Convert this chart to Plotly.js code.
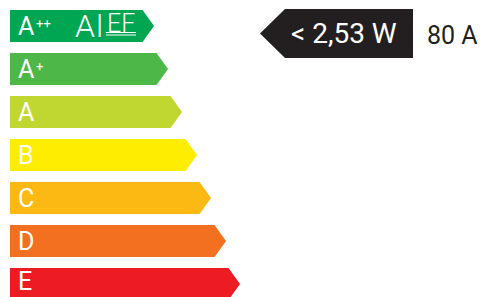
<!DOCTYPE html>
<html>
<head>
<meta charset="utf-8">
<script src="https://cdn.plot.ly/plotly-3.0.1.min.js"></script>
<style>html,body{margin:0;padding:0;background:#fff;}#chart{width:486px;height:297px;}</style>
</head>
<body>
<div id="chart"></div>
<script>
// ---- data ----
const categories = ['A++', 'A+', 'A', 'B', 'C', 'D', 'E'];
const classLabels = ['A', 'A', 'A', 'B', 'C', 'D', 'E'];
const classSup = ['++', '+', '', '', '', '', ''];
const barReach = [154, 168, 182, 197, 211, 226, 240];
const barColors = ['#00A651', '#4DB848', '#BFD730', '#FFED00', '#FDB913', '#F37021', '#ED1C24'];
const powerLabel = '< 2,53 W';
const powerReach = [260, 413];
const currentLabel = '80 A';

// ---- layout helpers (geometry, not data) ----
const W = 486, H = 297;
const x0 = 10, rowTop = 10, rowStep = 43, barH = 32, tipW = 11.5;

const traces = [];
const annotations = [];
categories.forEach((c, i) => {
  const top = rowTop + rowStep * i, bot = top + barH, mid = top + barH / 2;
  const tip = barReach[i];
  traces.push({
    type: 'scatter', mode: 'lines', fill: 'toself', fillcolor: barColors[i],
    line: {width: 0, color: barColors[i]}, hoverinfo: 'skip', name: c,
    x: [x0, tip - tipW, tip, tip - tipW, x0, x0],
    y: [top, top, mid, bot, bot, top]
  });
  annotations.push({
    x: 17, y: Math.min(mid + 0.5, H - 15.5), xref: 'x', yref: 'y', xanchor: 'left', yanchor: 'middle',
    text: classLabels[i], showarrow: false, borderpad: 0,
    font: {family: 'Roboto', size: 25, color: '#ffffff'}
  });
  if (classSup[i]) {
    annotations.push({
      x: 34.5, y: mid - 3, xref: 'x', yref: 'y', xanchor: 'left', yanchor: 'middle',
      text: classSup[i], showarrow: false, borderpad: 0,
      font: {family: 'Roboto', size: 13, color: '#ffffff'}
    });
  }
});

// black indicator arrow
const pTop = 9, pBot = 58, pMid = (pTop + pBot) / 2, pTipW = 25;
traces.push({
  type: 'scatter', mode: 'lines', fill: 'toself', fillcolor: '#231F20',
  line: {width: 0, color: '#231F20'}, hoverinfo: 'skip', name: powerLabel,
  x: [powerReach[0], powerReach[0] + pTipW, powerReach[1], powerReach[1], powerReach[0] + pTipW, powerReach[0]],
  y: [pMid, pTop, pTop, pBot, pBot, pMid]
});
annotations.push({
  x: 343.5, y: 33, xref: 'x', yref: 'y', xanchor: 'center', yanchor: 'middle',
  text: powerLabel, showarrow: false,
  font: {family: 'Roboto', size: 28, color: '#ffffff'}
});
annotations.push({
  x: 425, y: 35, xref: 'x', yref: 'y', xanchor: 'left', yanchor: 'middle',
  text: currentLabel, showarrow: false,
  font: {family: 'Roboto', size: 25, color: '#231F20'}
});

// AIEF logo
annotations.push({
  x: 73, y: 26, xref: 'x', yref: 'y', xanchor: 'left', yanchor: 'middle',
  text: 'A', showarrow: false,
  font: {family: 'Roboto', size: 32, weight: 300, color: '#ffffff'}
});
annotations.push({
  x: 94, y: 26, xref: 'x', yref: 'y', xanchor: 'left', yanchor: 'middle',
  text: 'l', showarrow: false,
  font: {family: 'Roboto', size: 32, weight: 300, color: '#ffffff'}
});
annotations.push({
  x: 105, y: 23.5, xref: 'x', yref: 'y', xanchor: 'left', yanchor: 'middle',
  text: 'EF', showarrow: false,
  font: {family: 'Roboto', size: 25, weight: 300, color: '#ffffff'}
});
const shapes = [
  {type: 'line', xref: 'x', yref: 'y', x0: 106, x1: 136, y0: 32.5, y1: 32.5, line: {color: '#ffffff', width: 1}},
  {type: 'line', xref: 'x', yref: 'y', x0: 106, x1: 136, y0: 35, y1: 35, line: {color: '#ffffff', width: 1}}
];

const layout = {
  width: W, height: H,
  margin: {l: 0, r: 0, t: 0, b: 0, pad: 0},
  paper_bgcolor: '#ffffff', plot_bgcolor: '#ffffff',
  showlegend: false,
  xaxis: {range: [0, W], visible: false, fixedrange: true},
  yaxis: {range: [H, 0], visible: false, fixedrange: true},
  annotations: annotations,
  shapes: shapes
};
Plotly.newPlot('chart', traces, layout, {staticPlot: true, displayModeBar: false});
</script>
</body>
</html>
